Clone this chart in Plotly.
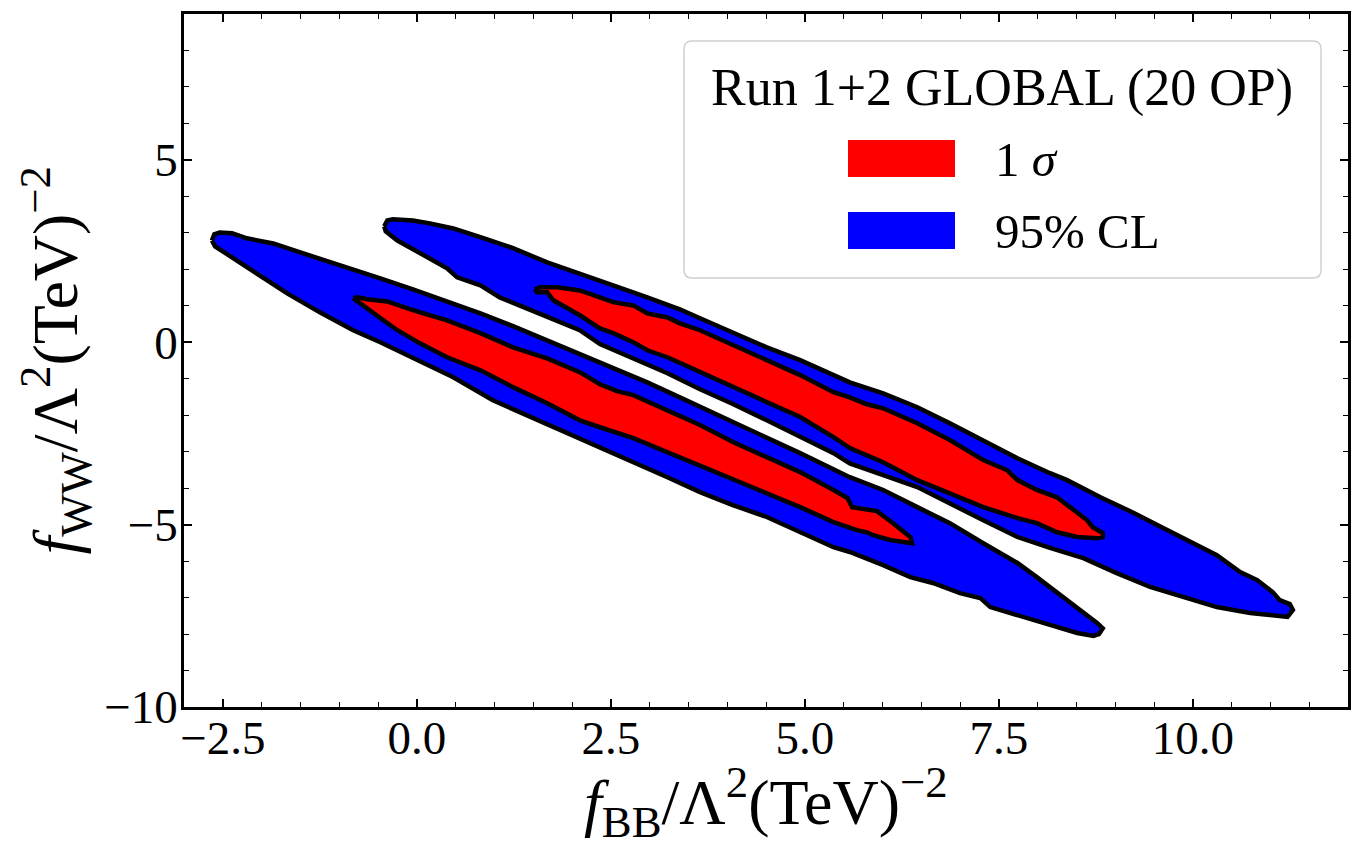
import plotly.graph_objects as go

# ---------------- data ----------------
# 95% CL region, lower band
bl_x = [-2.64, -2.61, -2.54, -2.38, -2.19, -1.85, -1.54, -1.21, -0.82, -0.47, -0.05, 0.39,
        0.82, 1.24, 1.68, 2.10, 2.53, 2.97, 3.39, 4.08, 4.50, 4.94, 5.58, 6.01, 6.45, 6.87,
        7.30, 7.74, 7.99, 8.33, 8.55, 8.68, 8.77, 8.84,
        8.79, 8.72, 8.51, 8.16, 7.74, 7.39, 7.26, 7.00, 6.65, 6.36, 6.01, 5.58, 5.37, 4.94,
        4.51, 4.08, 3.65, 3.23, 2.79, 2.36, 1.94, 1.50, 0.98, 0.47, -0.05, -0.47, -0.82,
        -1.25, -1.67, -2.19, -2.47, -2.60]
bl_y = [2.79, 2.96, 3.01, 2.99, 2.85, 2.71, 2.49, 2.27, 2.00, 1.75, 1.45, 1.12,
        0.79, 0.44, 0.05, -0.30, -0.68, -1.10, -1.51, -2.19, -2.58, -3.04, -3.70, -4.05,
        -4.52, -4.96, -5.51, -6.05, -6.44, -6.99, -7.34, -7.53, -7.70, -7.84,
        -8.00, -8.05, -7.97, -7.75, -7.48, -7.26, -7.01, -6.88, -6.60, -6.44, -6.11, -5.75,
        -5.62, -5.21, -4.79, -4.47, -4.11, -3.70, -3.29, -2.90, -2.49, -2.08, -1.59, -0.96,
        -0.41, 0.00, 0.33, 0.82, 1.34, 2.05, 2.44, 2.63]

# 1 sigma region, lower band
rl_x = [-0.82, -0.76, -0.64, -0.38, -0.05, 0.39, 0.82, 1.24, 1.68, 2.10, 2.36, 2.58, 2.79,
        3.23, 3.65, 4.08, 4.51, 4.94, 5.37, 5.55, 5.61, 5.93, 6.10, 6.36, 6.38,
        6.10, 5.88, 5.80, 5.67, 5.37, 4.94, 4.51, 4.08, 3.65, 3.23, 2.79, 2.36, 2.10, 1.68,
        1.24, 0.82, 0.39, 0.04, -0.25, -0.47, -0.64, -0.77]
rl_y = [1.21, 1.23, 1.18, 1.12, 0.88, 0.60, 0.25, -0.14, -0.44, -0.82, -1.15, -1.34, -1.45,
        -1.86, -2.27, -2.74, -3.15, -3.56, -4.05, -4.27, -4.52, -4.63, -4.90, -5.34, -5.51,
        -5.42, -5.29, -5.21, -5.15, -4.93, -4.52, -4.14, -3.78, -3.40, -3.01, -2.63, -2.33,
        -2.14, -1.67, -1.23, -0.77, -0.41, -0.03, 0.33, 0.66, 0.93, 1.10]

# 95% CL region, upper band
br_x = [-0.42, -0.38, -0.31, -0.05, 0.17, 0.47, 0.82, 1.24, 1.68, 2.10, 2.53, 2.97, 3.39,
        3.65, 4.08, 4.51, 4.94, 5.37, 5.58, 6.01, 6.45, 6.87, 7.30, 7.74, 8.16, 8.38, 8.81,
        9.24, 9.67, 10.00, 10.31, 10.61, 10.83, 11.03, 11.12, 11.25, 11.29, 11.22,
        10.74, 10.31, 9.87, 9.45, 9.02, 8.59, 8.16, 7.74, 7.30, 6.87, 6.45, 6.01, 5.58, 5.37,
        4.94, 4.51, 4.08, 3.65, 3.23, 2.79, 2.36, 2.10, 1.68, 1.24, 1.07, 0.82, 0.52, 0.39,
        0.21, -0.05, -0.25, -0.40]
br_y = [3.18, 3.34, 3.37, 3.34, 3.26, 3.12, 2.88, 2.58, 2.19, 1.89, 1.56, 1.23, 0.90,
        0.66, 0.27, -0.14, -0.49, -0.90, -1.10, -1.40, -1.78, -2.22, -2.68, -3.18, -3.59,
        -3.78, -4.25, -4.68, -5.15, -5.51, -5.84, -6.30, -6.52, -6.85, -7.07, -7.18, -7.34,
        -7.53,
        -7.42, -7.26, -6.99, -6.71, -6.33, -5.92, -5.64, -5.34, -4.88, -4.41, -3.97, -3.64,
        -3.32, -3.04, -2.58, -2.14, -1.70, -1.29, -0.85, -0.44, -0.05, 0.33, 0.71, 1.10,
        1.23, 1.56, 1.78, 2.03, 2.25, 2.58, 2.79, 3.04]

# 1 sigma region, upper band
rr_x = [1.52, 1.59, 1.81, 2.10, 2.36, 2.53, 2.79, 2.97, 3.23, 3.39, 3.65, 4.08, 4.51, 4.94,
        5.37, 5.58, 5.80, 6.01, 6.45, 6.87, 7.30, 7.61, 7.74, 7.99, 8.25, 8.42, 8.64, 8.71,
        8.84, 8.84,
        8.77, 8.51, 8.25, 7.99, 7.74, 7.30, 6.87, 6.45, 6.01, 5.58, 5.37, 4.94, 4.51, 4.08,
        3.65, 3.23, 2.97, 2.79, 2.53, 2.36, 2.10, 1.76, 1.68, 1.55]
rr_y = [1.45, 1.51, 1.51, 1.42, 1.23, 1.10, 1.01, 0.79, 0.68, 0.52, 0.33, -0.08, -0.49,
        -0.90, -1.37, -1.51, -1.70, -1.81, -2.22, -2.68, -3.23, -3.51, -3.78, -4.05, -4.25,
        -4.52, -4.88, -5.07, -5.23, -5.34,
        -5.37, -5.34, -5.21, -4.96, -4.82, -4.52, -4.14, -3.78, -3.29, -2.90, -2.60, -2.05,
        -1.64, -1.23, -0.82, -0.41, -0.22, 0.00, 0.25, 0.38, 0.74, 1.15, 1.37, 1.37]

x_tick_vals = [-2.5, 0.0, 2.5, 5.0, 7.5, 10.0]
x_tick_text = ["\u22122.5", "0.0", "2.5", "5.0", "7.5", "10.0"]
y_tick_vals = [-10, -5, 0, 5]
y_tick_text = ["\u221210", "\u22125", "0", "5"]

legend_title = "Run 1+2 GLOBAL (20 OP)"
legend_labels = ["1 <i>\u03c3</i>", "95% CL"]
legend_colors = ["#ff0000", "#0000ff"]

# ---------------- figure ----------------
W, H = 1363, 852
ML, MR, MT, MB = 184, 15, 14, 145
PW, PH = W - ML - MR, H - MT - MB


def px(xp):
    return (xp - ML) / PW


def py(yp):
    return (H - MB - yp) / PH


def closed(xs, ys):
    return list(xs) + [xs[0]], list(ys) + [ys[0]]


fig = go.Figure()
for xs, ys, col in [(bl_x, bl_y, "#0000ff"), (br_x, br_y, "#0000ff"),
                    (rl_x, rl_y, "#ff0000"), (rr_x, rr_y, "#ff0000")]:
    cx, cy = closed(xs, ys)
    fig.add_trace(go.Scatter(x=cx, y=cy, mode="lines", fill="toself", fillcolor=col,
                             line=dict(color="black", width=4.5), hoverinfo="skip",
                             showlegend=False))

FONT = "Liberation Serif, Times New Roman, serif"
axis_common = dict(showgrid=False, zeroline=False, showline=True, linewidth=2.8,
                   linecolor="black", mirror="allticks", ticks="inside", ticklen=8,
                   tickwidth=1.8, tickcolor="black",
                   tickfont=dict(family=FONT, size=47, color="black"))
fig.update_xaxes(range=[-3, 12], tickmode="array", tickvals=x_tick_vals, ticktext=x_tick_text,
                 ticklabelstandoff=-12,
                 minor=dict(tickmode="linear", tick0=0, dtick=0.5, ticks="inside", ticklen=5,
                            tickwidth=1.3, tickcolor="black", showgrid=False),
                 **axis_common)
fig.update_yaxes(range=[-10, 9], tickmode="array", tickvals=y_tick_vals, ticktext=y_tick_text,
                 ticklabelstandoff=-6,
                 minor=dict(tickmode="linear", tick0=0, dtick=1, ticks="inside", ticklen=5,
                            tickwidth=1.3, tickcolor="black", showgrid=False),
                 **axis_common)

shapes = []
# legend frame (rounded)
x0, x1, y0, y1 = px(684), px(1321), py(278), py(41)
rx, ry = 8 / PW, 8 / PH
path = (f"M {x0+rx},{y0} L {x1-rx},{y0} Q {x1},{y0} {x1},{y0+ry} L {x1},{y1-ry} "
        f"Q {x1},{y1} {x1-rx},{y1} L {x0+rx},{y1} Q {x0},{y1} {x0},{y1-ry} "
        f"L {x0},{y0+ry} Q {x0},{y0} {x0+rx},{y0} Z")
shapes.append(dict(type="path", xref="paper", yref="paper", path=path,
                   fillcolor="white", line=dict(color="#d0d0d0", width=1.5), layer="above"))
sw_tops = [140, 212]
for col, top in zip(legend_colors, sw_tops):
    shapes.append(dict(type="rect", xref="paper", yref="paper", x0=px(848), x1=px(955),
                       y0=py(top + 37), y1=py(top), fillcolor=col, line=dict(width=0),
                       layer="above"))

annotations = [
    dict(text=legend_title, x=px(1002), y=py(88), xref="paper", yref="paper",
         xanchor="center", yanchor="middle", showarrow=False,
         font=dict(family=FONT, size=52, color="black")),
]
for lab, top in zip(legend_labels, sw_tops):
    annotations.append(dict(text=lab, x=px(993), y=py(top + 19), xref="paper", yref="paper",
                            xanchor="left", yanchor="middle", showarrow=False,
                            font=dict(family=FONT, size=49, color="black")))
annotations.append(dict(text="<i>f</i><sub>BB</sub>/\u039b<sup>2</sup>(TeV)<sup>\u22122</sup>",
                        x=0.5, y=py(802), xref="paper", yref="paper", xanchor="center",
                        yanchor="middle", showarrow=False,
                        font=dict(family=FONT, size=64, color="black")))
annotations.append(dict(text="<i>f</i><sub>WW</sub>/\u039b<sup>2</sup>(TeV)<sup>\u22122</sup>",
                        x=px(55), y=0.5, xref="paper", yref="paper", xanchor="center",
                        yanchor="middle", textangle=-90, showarrow=False,
                        font=dict(family=FONT, size=64, color="black")))

fig.update_layout(width=W, height=H, margin=dict(l=ML, r=MR, t=MT, b=MB, autoexpand=False),
                  plot_bgcolor="white", paper_bgcolor="white", showlegend=False,
                  shapes=shapes, annotations=annotations,
                  font=dict(family=FONT, color="black"))

fig.write_html("out.html", config={"displayModeBar": False})
